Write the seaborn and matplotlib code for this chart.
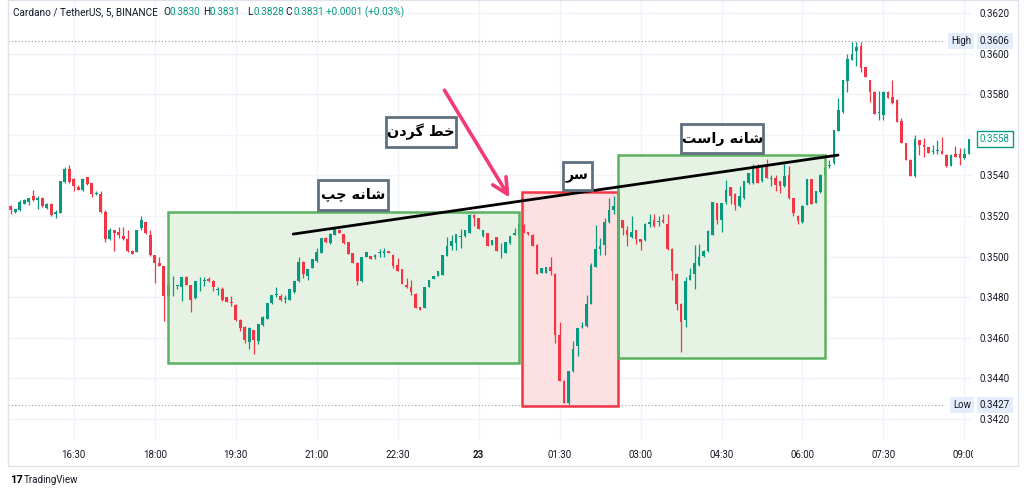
import numpy as np
import pandas as pd
import matplotlib
matplotlib.use('Agg')
import matplotlib.pyplot as plt
import matplotlib.transforms as mtransforms
from matplotlib.patches import Rectangle
from matplotlib.transforms import Bbox
import seaborn as sns

# 5 minute candles, ADA/USDT, 22nd 15:20 -> 23rd 09:05
opens = [
    0.35251, 0.35218, 0.35228, 0.35260, 0.35269, 0.35300, 0.35280, 0.35288, 0.35239, 0.35260,
    0.35208, 0.35215, 0.35367, 0.35433, 0.35382, 0.35342, 0.35329, 0.35390, 0.35362, 0.35308,
    0.35310, 0.35218, 0.35087, 0.35129, 0.35119, 0.35100, 0.35088, 0.35029, 0.35024, 0.35141,
    0.35170, 0.35108, 0.35010, 0.34969, 0.34955, 0.34805, 0.34859, 0.34854, 0.34851, 0.34900,
    0.34860, 0.34796, 0.34880, 0.34882, 0.34890, 0.34882, 0.34834, 0.34841, 0.34799, 0.34778,
    0.34762, 0.34690, 0.34652, 0.34578, 0.34637, 0.34583, 0.34665, 0.34695, 0.34769, 0.34813,
    0.34808, 0.34793, 0.34788, 0.34824, 0.34878, 0.34972, 0.34906, 0.34944, 0.34977, 0.35018,
    0.35092, 0.35066, 0.35108, 0.35129, 0.35111, 0.35070, 0.35018, 0.34969, 0.34878, 0.34998,
    0.35001, 0.34998, 0.35018, 0.35018, 0.35026, 0.35010, 0.34960, 0.34939, 0.34862, 0.34851,
    0.34818, 0.34752, 0.34747, 0.34851, 0.34890, 0.34906, 0.34911, 0.35005, 0.35051, 0.35066,
    0.35098, 0.35100, 0.35116, 0.35206, 0.35190, 0.35100, 0.35116, 0.35058, 0.35097, 0.35026,
    0.35018, 0.35066, 0.35108, 0.35108, 0.35149, 0.35119, 0.35108, 0.35059, 0.34919, 0.34919,
    0.34949, 0.34916, 0.34616, 0.34389, 0.34277, 0.34436, 0.34558, 0.34652, 0.34657, 0.34768,
    0.34949, 0.35038, 0.35059, 0.35169, 0.35228, 0.35251, 0.35178, 0.35129, 0.35096, 0.35129,
    0.35087, 0.35080, 0.35160, 0.35178, 0.35169, 0.35182, 0.35162, 0.35039, 0.34916, 0.34768,
    0.34686, 0.34887, 0.34916, 0.34960, 0.35005, 0.35026, 0.35108, 0.35264, 0.35178, 0.35269,
    0.35343, 0.35310, 0.35247, 0.35288, 0.35362, 0.35362, 0.35444, 0.35370, 0.35444, 0.35382,
    0.35387, 0.35370, 0.35346, 0.35403, 0.35288, 0.35201, 0.35169, 0.35255, 0.35382, 0.35264,
    0.35316, 0.35403, 0.35444, 0.35460, 0.35621, 0.35710, 0.35867, 0.35969, 0.36015, 0.36038,
    0.35933, 0.35870, 0.35813, 0.35708, 0.35698, 0.35813, 0.35788, 0.35772, 0.35670, 0.35559,
    0.35477, 0.35395, 0.35572, 0.35551, 0.35539, 0.35515, 0.35521, 0.35521, 0.35501, 0.35447,
    0.35506, 0.35506, 0.35485, 0.35506,
]
highs = [
    0.35256, 0.35236, 0.35280, 0.35283, 0.35290, 0.35329, 0.35300, 0.35293, 0.35262, 0.35262,
    0.35228, 0.35372, 0.35441, 0.35452, 0.35385, 0.35354, 0.35387, 0.35392, 0.35364, 0.35321,
    0.35321, 0.35228, 0.35141, 0.35133, 0.35146, 0.35146, 0.35129, 0.35031, 0.35131, 0.35198,
    0.35173, 0.35129, 0.35010, 0.34998, 0.34955, 0.34903, 0.34906, 0.34862, 0.34900, 0.34903,
    0.34862, 0.34880, 0.34900, 0.34900, 0.34900, 0.34884, 0.34851, 0.34851, 0.34800, 0.34805,
    0.34767, 0.34695, 0.34657, 0.34652, 0.34640, 0.34670, 0.34706, 0.34772, 0.34810, 0.34851,
    0.34818, 0.34813, 0.34841, 0.34882, 0.34998, 0.34980, 0.34941, 0.34988, 0.35042, 0.35094,
    0.35097, 0.35118, 0.35143, 0.35135, 0.35113, 0.35072, 0.35020, 0.34971, 0.35000, 0.35023,
    0.35003, 0.35015, 0.35038, 0.35042, 0.35030, 0.35012, 0.34993, 0.34941, 0.34895, 0.34887,
    0.34820, 0.34754, 0.34851, 0.34887, 0.34906, 0.34928, 0.35010, 0.35097, 0.35108, 0.35113,
    0.35134, 0.35129, 0.35210, 0.35208, 0.35192, 0.35131, 0.35118, 0.35082, 0.35099, 0.35066,
    0.35072, 0.35102, 0.35141, 0.35162, 0.35160, 0.35121, 0.35110, 0.35061, 0.34946, 0.34951,
    0.34998, 0.34918, 0.34677, 0.34391, 0.34436, 0.34583, 0.34650, 0.34677, 0.34813, 0.34969,
    0.35157, 0.35094, 0.35190, 0.35288, 0.35300, 0.35256, 0.35180, 0.35149, 0.35201, 0.35131,
    0.35089, 0.35164, 0.35210, 0.35210, 0.35198, 0.35210, 0.35210, 0.35041, 0.34918, 0.34770,
    0.34900, 0.34944, 0.35059, 0.35064, 0.35034, 0.35130, 0.35271, 0.35266, 0.35266, 0.35379,
    0.35345, 0.35312, 0.35346, 0.35372, 0.35413, 0.35457, 0.35457, 0.35446, 0.35480, 0.35403,
    0.35403, 0.35372, 0.35457, 0.35444, 0.35290, 0.35203, 0.35253, 0.35384, 0.35384, 0.35323,
    0.35405, 0.35436, 0.35477, 0.35626, 0.35780, 0.35872, 0.35998, 0.36059, 0.36059, 0.36059,
    0.35935, 0.35872, 0.35815, 0.35816, 0.35815, 0.35815, 0.35870, 0.35774, 0.35682, 0.35561,
    0.35479, 0.35600, 0.35574, 0.35583, 0.35541, 0.35551, 0.35575, 0.35588, 0.35503, 0.35503,
    0.35546, 0.35534, 0.35534, 0.35580,
]
lows = [
    0.35211, 0.35215, 0.35224, 0.35258, 0.35252, 0.35272, 0.35234, 0.35242, 0.35236, 0.35198,
    0.35190, 0.35213, 0.35365, 0.35362, 0.35321, 0.35327, 0.35321, 0.35355, 0.35292, 0.35305,
    0.35216, 0.35070, 0.35080, 0.35029, 0.35092, 0.35083, 0.35021, 0.35012, 0.35021, 0.35133,
    0.35111, 0.35003, 0.34870, 0.34952, 0.34682, 0.34788, 0.34805, 0.34838, 0.34780, 0.34859,
    0.34728, 0.34793, 0.34829, 0.34854, 0.34876, 0.34829, 0.34813, 0.34783, 0.34775, 0.34755,
    0.34681, 0.34632, 0.34572, 0.34547, 0.34518, 0.34570, 0.34660, 0.34693, 0.34767, 0.34801,
    0.34780, 0.34772, 0.34785, 0.34822, 0.34875, 0.34895, 0.34887, 0.34942, 0.34975, 0.35016,
    0.35068, 0.35064, 0.35106, 0.35114, 0.35064, 0.35013, 0.34967, 0.34862, 0.34876, 0.34996,
    0.34986, 0.34988, 0.34998, 0.34998, 0.35016, 0.34944, 0.34928, 0.34865, 0.34846, 0.34813,
    0.34745, 0.34737, 0.34745, 0.34849, 0.34888, 0.34904, 0.34909, 0.35003, 0.35031, 0.35034,
    0.35042, 0.35098, 0.35114, 0.35149, 0.35136, 0.35098, 0.35054, 0.35056, 0.35026, 0.34993,
    0.35016, 0.35064, 0.35106, 0.35106, 0.35114, 0.35108, 0.35051, 0.34914, 0.34917, 0.34917,
    0.34911, 0.34575, 0.34386, 0.34277, 0.34268, 0.34434, 0.34509, 0.34649, 0.34655, 0.34766,
    0.34947, 0.35010, 0.35010, 0.35167, 0.35211, 0.35133, 0.35108, 0.35054, 0.35094, 0.35064,
    0.35031, 0.35078, 0.35146, 0.35147, 0.35152, 0.35167, 0.35031, 0.34884, 0.34739, 0.34529,
    0.34654, 0.34884, 0.34841, 0.34952, 0.34998, 0.35024, 0.35106, 0.35162, 0.35119, 0.35260,
    0.35260, 0.35231, 0.35245, 0.35286, 0.35360, 0.35360, 0.35363, 0.35368, 0.35385, 0.35346,
    0.35321, 0.35313, 0.35344, 0.35286, 0.35201, 0.35162, 0.35167, 0.35253, 0.35260, 0.35262,
    0.35314, 0.35398, 0.35436, 0.35458, 0.35619, 0.35708, 0.35813, 0.35967, 0.35939, 0.35911,
    0.35887, 0.35764, 0.35701, 0.35674, 0.35674, 0.35780, 0.35752, 0.35665, 0.35559, 0.35477,
    0.35398, 0.35393, 0.35501, 0.35490, 0.35510, 0.35506, 0.35506, 0.35506, 0.35441, 0.35445,
    0.35490, 0.35452, 0.35483, 0.35504,
]
closes = [
    0.35228, 0.35234, 0.35270, 0.35280, 0.35288, 0.35277, 0.35288, 0.35247, 0.35260, 0.35206,
    0.35219, 0.35370, 0.35433, 0.35367, 0.35349, 0.35329, 0.35382, 0.35357, 0.35308, 0.35313,
    0.35218, 0.35087, 0.35129, 0.35118, 0.35105, 0.35087, 0.35026, 0.35014, 0.35129, 0.35178,
    0.35116, 0.35006, 0.34969, 0.34955, 0.34808, 0.34862, 0.34862, 0.34859, 0.34900, 0.34859,
    0.34788, 0.34878, 0.34882, 0.34883, 0.34878, 0.34849, 0.34841, 0.34788, 0.34777, 0.34769,
    0.34686, 0.34649, 0.34588, 0.34649, 0.34588, 0.34670, 0.34703, 0.34772, 0.34810, 0.34816,
    0.34788, 0.34794, 0.34841, 0.34882, 0.34972, 0.34916, 0.34941, 0.34988, 0.35021, 0.35092,
    0.35070, 0.35111, 0.35141, 0.35116, 0.35066, 0.35015, 0.34969, 0.34878, 0.34998, 0.35021,
    0.34988, 0.35010, 0.35021, 0.35029, 0.35018, 0.34952, 0.34928, 0.34867, 0.34851, 0.34824,
    0.34747, 0.34739, 0.34849, 0.34887, 0.34906, 0.34928, 0.35010, 0.35051, 0.35075, 0.35111,
    0.35101, 0.35129, 0.35206, 0.35190, 0.35136, 0.35129, 0.35054, 0.35080, 0.35026, 0.35028,
    0.35070, 0.35100, 0.35116, 0.35160, 0.35116, 0.35111, 0.35051, 0.34916, 0.34944, 0.34949,
    0.34928, 0.34616, 0.34386, 0.34277, 0.34436, 0.34545, 0.34649, 0.34657, 0.34768, 0.34960,
    0.35039, 0.35051, 0.35169, 0.35231, 0.35251, 0.35169, 0.35141, 0.35108, 0.35119, 0.35087,
    0.35070, 0.35162, 0.35170, 0.35149, 0.35174, 0.35169, 0.35039, 0.34928, 0.34768, 0.34677,
    0.34878, 0.34908, 0.34969, 0.34998, 0.35026, 0.35128, 0.35269, 0.35178, 0.35264, 0.35329,
    0.35297, 0.35256, 0.35300, 0.35370, 0.35411, 0.35444, 0.35365, 0.35444, 0.35387, 0.35387,
    0.35354, 0.35346, 0.35398, 0.35288, 0.35215, 0.35174, 0.35251, 0.35382, 0.35260, 0.35321,
    0.35403, 0.35436, 0.35452, 0.35624, 0.35723, 0.35870, 0.35972, 0.35998, 0.36031, 0.35928,
    0.35887, 0.35813, 0.35701, 0.35710, 0.35813, 0.35780, 0.35759, 0.35665, 0.35559, 0.35477,
    0.35398, 0.35578, 0.35551, 0.35539, 0.35510, 0.35521, 0.35522, 0.35506, 0.35447, 0.35501,
    0.35490, 0.35485, 0.35506, 0.35578,
]

time_ticks = [14, 32, 50, 68, 86, 104, 122, 140, 158, 176, 194, 212]
time_labels = ['16:30', '18:00', '19:30', '21:00', '22:30', '23',
               '01:30', '03:00', '04:30', '06:00', '07:30', '09:00']
price_ticks = [0.3420, 0.3440, 0.3460, 0.3480, 0.3500, 0.3520,
               0.3540, 0.3560, 0.3580, 0.3600, 0.3620]

high_price = 0.3606
low_price = 0.3427
last_price = 0.3558

# pattern boxes: (first candle, last candle, low, high)
left_shoulder = (35.0, 113.0, 0.34476, 0.35220)
head = (113.7, 135.0, 0.34264, 0.35318)
right_shoulder = (135.0, 181.0, 0.34500, 0.35500)
neck_x = [62.8, 183.9]
neck_y = [0.35111, 0.35500]

# label boxes: text, (x0, x1, y0, y1) in candle / price units
labels = [('شانه چپ', (68.3, 83.9, 0.35230, 0.35377)),
          ('خط گردن', (83.4, 99.0, 0.35540, 0.35688)),
          ('سر', (122.8, 129.2, 0.35328, 0.35466)),
          ('شانه راست', (149.0, 167.3, 0.35510, 0.35653))]

UP = '#089981'
DOWN = '#f23645'
TXT = '#131722'

# simple persian shaping (matplotlib has no text shaping)
FORMS = {
    'ا': ('\uFE8D', '\uFE8E', None, None),
    'ت': ('\uFE95', '\uFE96', '\uFE97', '\uFE98'),
    'پ': ('\uFB56', '\uFB57', '\uFB58', '\uFB59'),
    'چ': ('\uFB7A', '\uFB7B', '\uFB7C', '\uFB7D'),
    'خ': ('\uFEA5', '\uFEA6', '\uFEA7', '\uFEA8'),
    'د': ('\uFEA9', '\uFEAA', None, None),
    'ر': ('\uFEAD', '\uFEAE', None, None),
    'س': ('\uFEB1', '\uFEB2', '\uFEB3', '\uFEB4'),
    'ش': ('\uFEB5', '\uFEB6', '\uFEB7', '\uFEB8'),
    'ط': ('\uFEC1', '\uFEC2', '\uFEC3', '\uFEC4'),
    'گ': ('\uFB92', '\uFB93', '\uFB94', '\uFB95'),
    'ن': ('\uFEE5', '\uFEE6', '\uFEE7', '\uFEE8'),
    'ه': ('\uFEE9', '\uFEEA', '\uFEEB', '\uFEEC'),
}


def shape(text):
    out = []
    for i, ch in enumerate(text):
        if ch not in FORMS:
            out.append(ch)
            continue
        prev = text[i - 1] if i > 0 else ''
        nxt = text[i + 1] if i + 1 < len(text) else ''
        joins_prev = prev in FORMS and FORMS[prev][2] is not None
        joins_next = nxt in FORMS and FORMS[ch][2] is not None
        iso, fin, ini, med = FORMS[ch]
        if joins_prev and joins_next:
            out.append(med)
        elif joins_prev:
            out.append(fin)
        elif joins_next:
            out.append(ini)
        else:
            out.append(iso)
    return ''.join(reversed(out))


sns.set_theme(style='white')
plt.rcParams['font.family'] = ['Roboto', 'DejaVu Sans']

df = pd.DataFrame({'open': opens, 'high': highs, 'low': lows, 'close': closes})
df['up'] = df['close'] >= df['open']
df['color'] = np.where(df['up'], UP, DOWN)
df['bottom'] = df[['open', 'close']].min(axis=1)
df['height'] = (df['close'] - df['open']).abs().clip(lower=0.00002)

fig = plt.figure(figsize=(10.24, 4.94), dpi=100)
ax = fig.add_axes([8 / 1024, 54 / 494, 965 / 1024, 440 / 494])
ax.set_xlim(-0.6, 213.9)
ax.set_ylim(0.340966, 0.36264)

# grid
for t in time_ticks:
    ax.axvline(t, color='#f0f3fa', lw=1, zorder=0)
for p in price_ticks:
    ax.axhline(p, color='#f0f3fa', lw=1, zorder=0)

# pattern boxes
boxes = [(left_shoulder, '#e6f3e4', '#5cb35f'),
         (head, '#fde0e2', '#f23645'),
         (right_shoulder, '#e6f3e4', '#5cb35f')]
for (x0, x1, y0, y1), fc, ec in boxes:
    ax.add_patch(Rectangle((x0, y0), x1 - x0, y1 - y0, facecolor=fc,
                           edgecolor='none', zorder=1))
    ax.add_patch(Rectangle((x0, y0), x1 - x0, y1 - y0, facecolor='none',
                           edgecolor=ec, lw=1.8, zorder=3))

# candles
ax.vlines(df.index, df['low'], df['high'], colors=df['color'], lw=0.9, zorder=2)
ax.bar(df.index, df['height'], bottom=df['bottom'], width=0.62,
       color=df['color'], linewidth=0, zorder=2.5)

# high / low dotted lines
ax.axhline(high_price, xmax=(945 - 8) / 965, color='#9598a1', ls=(0, (1, 2)), lw=0.8, zorder=1)
ax.axhline(low_price, xmax=(945 - 8) / 965, color='#9598a1', ls=(0, (1, 2)), lw=0.8, zorder=1)

# neckline
sns.lineplot(x=neck_x, y=neck_y, color='black', lw=2, ax=ax, zorder=4)

# arrow to the neckline
ax.annotate('', xy=(111.2, 0.35279), xytext=(96.1, 0.35831),
            arrowprops=dict(arrowstyle='->', color='#f23a75', lw=2.6,
                            mutation_scale=28), zorder=5)

for txt, (x0, x1, y0, y1) in labels:
    ax.add_patch(Rectangle((x0, y0), x1 - x0, y1 - y0, facecolor='white',
                           edgecolor='#607080', lw=2, zorder=6))
    ax.text((x0 + x1) / 2, (y0 + y1) / 2, shape(txt), ha='center', va='center',
            fontsize=10.4, fontweight='bold', color='black',
            family=['DejaVu Sans'], zorder=7)

# axes styling
for s in ax.spines.values():
    s.set_visible(False)
ax.yaxis.tick_right()
ax.set_yticks(price_ticks)
# 0.3560 sits under the last price label
ax.set_yticklabels(['' if abs(p - 0.3560) < 1e-9 else '%.4f' % p for p in price_ticks])
ax.set_xticks(time_ticks)
ax.set_xticklabels(time_labels)
ax.tick_params(axis='both', length=0, labelsize=7, labelcolor=TXT)
ax.tick_params(axis='y', pad=5)
ax.tick_params(axis='x', pad=7)
for lab in ax.get_xticklabels():
    if lab.get_text() == '23':
        lab.set_fontweight('bold')
fig.canvas.draw()
xl = ax.get_xticklabels()[-1]
xl.set_clip_on(True)
xl.set_clip_box(mtransforms.TransformedBbox(Bbox([[0, 0], [973, 494]]),
                                            mtransforms.IdentityTransform()))

# price labels on the axis
yt = mtransforms.blended_transform_factory(ax.transAxes, ax.transData)
hl_box = dict(boxstyle='square,pad=0.3', facecolor='#e3edfb', edgecolor='none')
for name, val in [('High', high_price), ('Low', low_price)]:
    ax.text(0.998, val, name, transform=yt, ha='right', va='center',
            fontsize=7, color=TXT, bbox=hl_box, zorder=7, clip_on=False)
    ax.text(1.007, val, '%.4f' % val, transform=yt, ha='left', va='center',
            fontsize=7, color=TXT, bbox=hl_box, zorder=7, clip_on=False)
ax.text(1.007, last_price, '%.4f' % last_price, transform=yt, ha='left',
        va='center', fontsize=7, color=UP, zorder=7, clip_on=False,
        bbox=dict(boxstyle='square,pad=0.3', facecolor='white', edgecolor=UP, lw=1))

# header
hy = 1 - 12 / 494
fig.text(13 / 1024, hy, 'Cardano / TetherUS, 5, BINANCE', fontsize=7.2, color=TXT, va='center')
parts = [(163, 'O', TXT), (170, '0.3830', UP), (203, 'H', TXT), (210, '0.3831', UP),
         (247, 'L', TXT), (253, '0.3828', UP), (285, 'C', TXT), (293, '0.3831', UP),
         (326, '+0.0001 (+0.03%)', UP)]
for px, s, c in parts:
    fig.text(px / 1024, hy, s, fontsize=7.2, color=c, va='center')

# frame and logo
fig.add_artist(Rectangle((8 / 1024, 28 / 494), 1010 / 1024, 466 / 494,
                         transform=fig.transFigure, facecolor='none',
                         edgecolor='#e0e3eb', lw=1))
fig.text(10 / 1024, 1 - 480 / 494, '17', fontsize=8, fontweight='bold', color='black', va='center')
fig.text(24 / 1024, 1 - 480 / 494, 'TradingView', fontsize=7, color='#131722', va='center')

fig.savefig('out.png', dpi=100)
